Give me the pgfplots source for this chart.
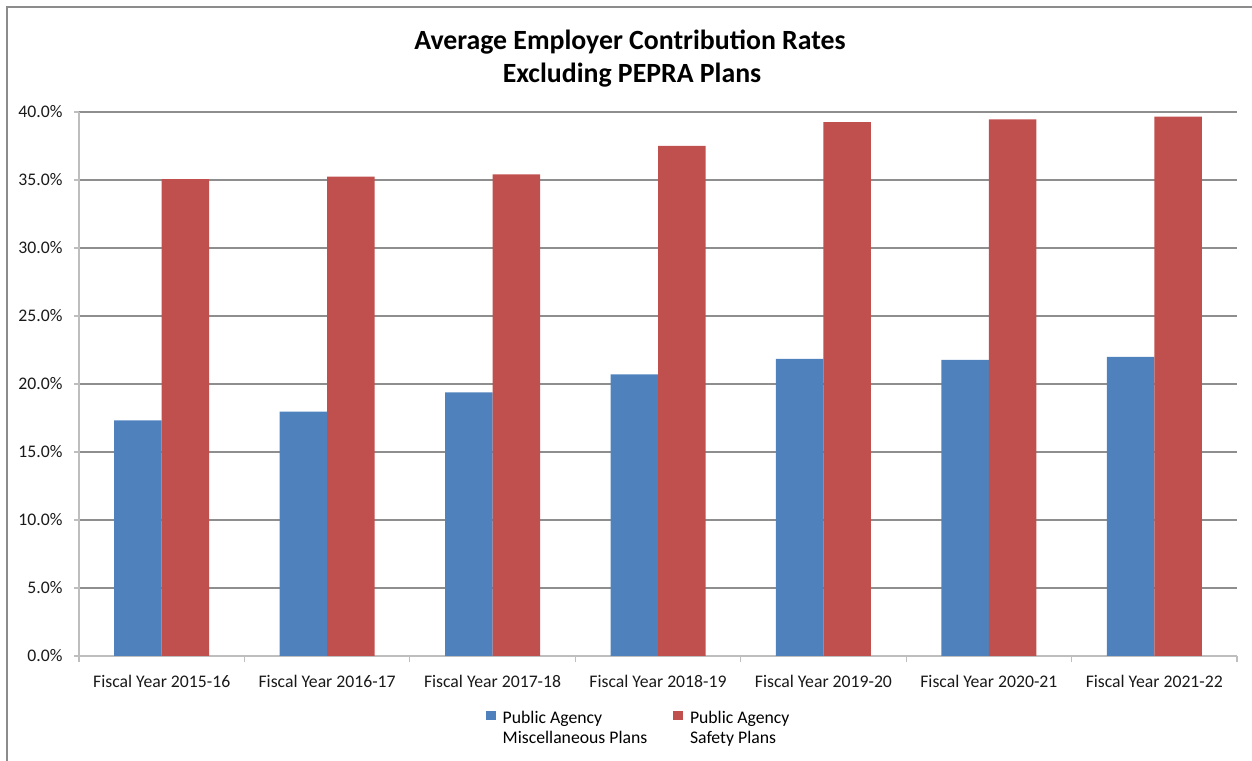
\documentclass[border=0pt]{standalone}
\usepackage{fontspec}
\setmainfont{Carlito}
\usepackage{pgfplots}
\pgfplotsset{compat=1.18}
\definecolor{blu}{HTML}{4F81BD}
\definecolor{rd}{HTML}{C0504D}
\definecolor{gridc}{HTML}{8E8E8E}
\definecolor{axc}{HTML}{BEBEBE}
\definecolor{framec}{HTML}{8C8C8C}
\begin{document}
\begin{tikzpicture}[x=1bp,y=1bp]
\begin{axis}[
  at={(79bp,105bp)}, anchor=south west,
  scale only axis, width=1158bp, height=544bp,
  xmin=-0.5, xmax=6.5, ymin=0, ymax=40,
  ybar=0pt, bar width=47.5bp,
  axis x line*=bottom, axis y line*=left,
  axis line style={axc, line width=1.2bp, -},
  xtick={0,...,6},
  xticklabels={Fiscal Year 2015-16,Fiscal Year 2016-17,Fiscal Year 2017-18,Fiscal Year 2018-19,Fiscal Year 2019-20,Fiscal Year 2020-21,Fiscal Year 2021-22},
  major x tick style={draw=none},
  minor xtick={-0.5,0.5,...,6.5},
  minor x tick style={axc, line width=1.2bp},
  minor tick length=6bp, major tick length=5bp, tick align=outside,
  ytick={0,5,...,40},
  major y tick style={axc, line width=1.2bp},
  ymajorgrids, grid style={gridc, line width=1.2bp},
  yticklabel={\pgfmathprintnumber[fixed,fixed zerofill,precision=1]{\tick}\%},
  /pgf/number format/assume math mode=true,
  tick label style={font=\fontsize{17.7bp}{21bp}\selectfont, text=black!90},
  xticklabel style={yshift=-11bp},
  yticklabel style={xshift=-8bp},
  enlargelimits=false,
  clip=false,
  legend columns=2,
  legend style={at={(0.3515,-0.094)}, anchor=north west, draw=none, fill=none,
    inner sep=0pt, outer sep=0pt,
    font=\fontsize{17.7bp}{20bp}\selectfont,
    cells={anchor=west, align=left, inner sep=0pt},
    /tikz/every odd column/.append style={column sep=4.7bp},
    /tikz/every even column/.append style={column sep=24bp}},
  every axis plot post/.append style={legend image code/.code={\fill[##1] (0bp,6.5bp) rectangle (10bp,16bp);}},
]
\addplot[fill=blu, draw=none] coordinates {(0,17.33) (1,17.97) (2,19.39) (3,20.71) (4,21.84) (5,21.77) (6,21.99)};
\addlegendentry{\strut Public Agency\\\strut Miscellaneous Plans}
\addplot[fill=rd, draw=none] coordinates {(0,35.07) (1,35.24) (2,35.41) (3,37.50) (4,39.26) (5,39.46) (6,39.65)};
\addlegendentry{\strut Public Agency\\\strut Safety Plans}
\end{axis}
\draw[framec, line width=1.8bp] (7,-2) -- (7,754) -- (1254,754);
\node[anchor=base, font=\fontsize{27.8bp}{31bp}\selectfont\bfseries] at (630,711) {Average Employer Contribution Rates};
\node[anchor=base, font=\fontsize{27.8bp}{31bp}\selectfont\bfseries] at (632,678) {Excluding PEPRA Plans};
\pgfresetboundingbox
\useasboundingbox (0,0) rectangle (1252,761);
\end{tikzpicture}
\end{document}
